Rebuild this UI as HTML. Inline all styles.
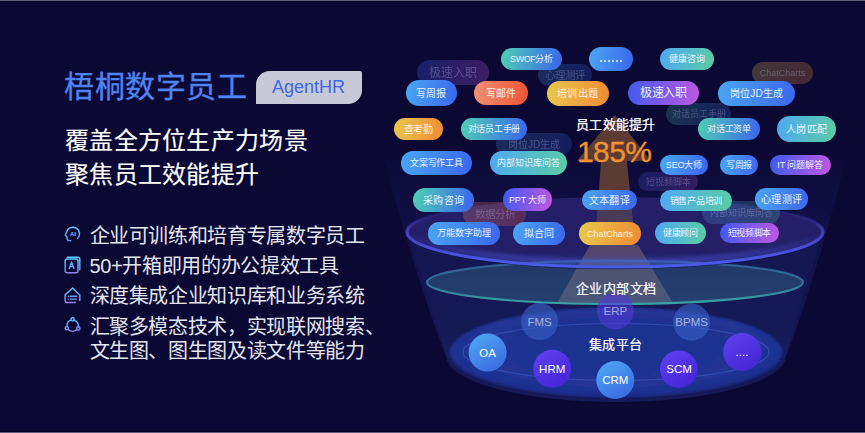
<!DOCTYPE html>
<html lang="zh-CN"><head><meta charset="utf-8">
<style>
html,body{margin:0;padding:0}
body{width:865px;height:433px;overflow:hidden;position:relative;background:#0b0934;font-family:"Liberation Sans",sans-serif}
.ab{position:absolute;white-space:nowrap}
.line{position:absolute;left:0;width:865px;height:1px}
.fun{position:absolute;left:0;top:0}
.dots{display:inline-flex;gap:2.2px;vertical-align:middle;margin-top:2px}
.dots i{display:block;width:1.8px;height:1.8px;border-radius:1px;background:#eef4ff}
.pill{position:absolute;text-align:center;white-space:nowrap;font-weight:500;letter-spacing:0}
.title{left:64px;top:67px;font-size:30px;color:#4f82f2;line-height:40px;letter-spacing:0.6px;-webkit-text-stroke:0.35px #4f82f2}
.badge{left:256px;top:71px;width:106px;height:33px;background:#c9c8d8;border-radius:14px 2px 14px 0;}
.badge span{position:absolute;left:16px;top:0;line-height:33px;font-size:18px;color:#3d68de}
.sub{left:65px;font-size:24px;color:#ffffff;line-height:33px;letter-spacing:0.3px;-webkit-text-stroke:0.12px #fff}
.bl{left:89.5px;font-size:20px;color:#e4e5ee;line-height:24px;letter-spacing:-0.35px}
.ic{position:absolute;left:64px;width:17px;height:17px}
.clab{position:absolute;font-size:11.5px;color:#fff;text-align:center;width:60px;line-height:14px;}
</style></head><body>
<div class="line" style="top:0;background:#5e5c80"></div>
<div class="line" style="top:1px;background:#020024"></div>
<div class="line" style="top:431px;background:#020024"></div>
<div class="line" style="top:432px;background:#5e5c80"></div>

<div class="ab title">梧桐数字员工</div>
<div class="ab badge"><span>AgentHR</span></div>
<div class="ab sub" style="top:124px">覆盖全方位生产力场景</div>
<div class="ab sub" style="top:157.5px">聚焦员工效能提升</div>

<div class="ab bl" style="top:223.5px">企业可训练和培育专属数字员工</div>
<div class="ab bl" style="top:254px">50+开箱即用的办公提效工具</div>
<div class="ab bl" style="top:284.2px">深度集成企业知识库和业务系统</div>
<div class="ab bl" style="top:314.5px">汇聚多模态技术，实现联网搜索、</div>
<div class="ab bl" style="top:339px">文生图、图生图及读文件等能力</div>


<svg class="ab" style="left:0;top:0" width="100" height="433" viewBox="0 0 100 433">
 <defs>
  <linearGradient id="ig" gradientUnits="userSpaceOnUse" x1="0" y1="4" x2="0" y2="21">
   <stop offset="0" stop-color="#5ecaff"/><stop offset="0.6" stop-color="#62a4f8"/><stop offset="1" stop-color="#a07af4"/>
  </linearGradient>
 </defs>
 <g fill="none" stroke="url(#ig)" stroke-width="1.45" stroke-linecap="round" stroke-linejoin="round">
  <g transform="translate(62,224)">
   <path d="M15.5,14.6 A6.6,6.6 0 1 0 4.6,8 L3.3,11.3 L4.8,12.5 L5.3,15.3 Q5.5,16.6 7,16.6 L8.8,16.6"/>
  </g>
  <g transform="translate(60,253)">
   <rect x="5.2" y="6" width="12.8" height="13.8" rx="2"/>
   <path d="M7.3,4.3 L17.6,4.3 Q19.8,4.3 19.8,6.5 L19.8,16.8"/>
   <path d="M9.3,15.5 L11.6,9.3 L13.9,15.5 M10.1,13.5 L13.1,13.5"/>
  </g>
  <g transform="translate(60,282)">
   <path d="M15.2,20.4 L7,20.4 Q5.1,20.4 5.1,18.5 L5.1,12.9 L12.6,6 L19.8,12.9 L19.8,18.5"/>
   <path d="M10.2,14.2 L16.4,14.2 M10.2,17.1 L16.4,17.1"/>
   <path d="M8.4,14.2 L8.5,14.2 M8.4,17.1 L8.5,17.1"/>
  </g>
  <g transform="translate(60,312)">
   <path d="M11.1,8.1 A6.2,6.2 0 0 0 6.9,14.5"/>
   <path d="M14.1,8.1 A6.2,6.2 0 0 1 18.3,14.7"/>
   <path d="M8.3,17.6 A6.2,6.2 0 0 0 16.8,17.8"/>
   <circle cx="12.6" cy="7.3" r="1.6"/>
   <circle cx="6.8" cy="16.2" r="1.6"/>
   <circle cx="18.3" cy="16.4" r="1.6"/>
  </g>
 </g>
 <text x="73" y="235.8" font-size="6" font-weight="700" fill="#78c0fa" text-anchor="middle" font-family="Liberation Sans">AI</text>
</svg>


<svg class="fun" width="865" height="433" viewBox="0 0 865 433">
 <defs>
  <linearGradient id="outer" x1="0" y1="0" x2="0" y2="1">
   <stop offset="0" stop-color="#16165a" stop-opacity="0.1"/>
   <stop offset="0.3" stop-color="#18185e" stop-opacity="0.5"/>
   <stop offset="1" stop-color="#1c2068" stop-opacity="0.7"/>
  </linearGradient>
  <linearGradient id="body" x1="0" y1="0" x2="0" y2="1">
   <stop offset="0" stop-color="#121650"/>
   <stop offset="0.6" stop-color="#141a56"/>
   <stop offset="1" stop-color="#1a2470"/>
  </linearGradient>
  <linearGradient id="topfill" x1="0" y1="0" x2="0" y2="1">
   <stop offset="0" stop-color="#261e68"/>
   <stop offset="1" stop-color="#221f66"/>
  </linearGradient>
  <linearGradient id="tealfill" x1="0" y1="0" x2="0" y2="1">
   <stop offset="0" stop-color="#203868"/>
   <stop offset="1" stop-color="#23406e"/>
  </linearGradient>
  <linearGradient id="tealrim" x1="0" y1="0" x2="0" y2="1">
   <stop offset="0" stop-color="#3a68a4" stop-opacity="0.75"/>
   <stop offset="0.4" stop-color="#3a78a8" stop-opacity="0.8"/>
   <stop offset="1" stop-color="#3aa4a6"/>
  </linearGradient>
  <linearGradient id="toprim" x1="0" y1="0" x2="0" y2="1">
   <stop offset="0" stop-color="#3a2e98" stop-opacity="0"/>
   <stop offset="0.2" stop-color="#3a2e98" stop-opacity="0.05"/>
   <stop offset="0.35" stop-color="#3a30a0" stop-opacity="0.6"/>
   <stop offset="0.5" stop-color="#4640c0"/>
   <stop offset="0.8" stop-color="#4a50dc"/>
   <stop offset="1" stop-color="#4c5ce8"/>
  </linearGradient>
  <filter id="blur2" x="-10%" y="-30%" width="120%" height="160%"><feGaussianBlur stdDeviation="1.0"/></filter>
  <linearGradient id="glowg" x1="0" y1="0" x2="0" y2="1">
   <stop offset="0" stop-color="#4050d8" stop-opacity="0"/>
   <stop offset="0.55" stop-color="#4050d8" stop-opacity="0"/>
   <stop offset="1" stop-color="#4a5ce0" stop-opacity="0.55"/>
  </linearGradient>
  <filter id="blur3" x="-10%" y="-40%" width="120%" height="180%"><feGaussianBlur stdDeviation="2.2"/></filter>
  <filter id="soft" x="-5%" y="-20%" width="110%" height="140%"><feGaussianBlur stdDeviation="0.6"/></filter>
  <radialGradient id="disc" cx="0.5" cy="0.45" r="0.55">
   <stop offset="0" stop-color="#1f328e"/>
   <stop offset="0.8" stop-color="#203494"/>
   <stop offset="1" stop-color="#1c2c8e"/>
  </radialGradient>
  <linearGradient id="beam2" x1="0" y1="0" x2="0" y2="1">
   <stop offset="0" stop-color="#7a6670" stop-opacity="0.55"/>
   <stop offset="1" stop-color="#7a7488" stop-opacity="0.45"/>
  </linearGradient>
  <linearGradient id="cOA" x1="0.2" y1="0" x2="0.8" y2="1">
   <stop offset="0" stop-color="#4ea6f4"/><stop offset="1" stop-color="#3a68e0"/>
  </linearGradient>
  <linearGradient id="cPU" x1="0.2" y1="0" x2="0.8" y2="1">
   <stop offset="0" stop-color="#5e40f0"/><stop offset="1" stop-color="#4424d4"/>
  </linearGradient>
 </defs>
 <!-- outer faint cone -->
 <path d="M384,160 L846,160 Q812,290 786,356 A170 46 0 0 1 446,356 Q420,290 384,160 Z" fill="url(#outer)"/>
 <!-- funnel body -->
 <path d="M407,232 L446,352 A170 46 0 0 0 786,352 L823,232 Z" fill="url(#body)"/>
 <!-- bottom disc -->
 <ellipse cx="616" cy="352" rx="166" ry="44.5" fill="url(#disc)" filter="url(#blur2)"/>
 <ellipse cx="616" cy="352" rx="153" ry="28.5" fill="none" stroke="#4a68dc" stroke-opacity="0.4" stroke-width="1.2"/>
 <!-- top ellipse -->
 <ellipse cx="615" cy="232" rx="208" ry="35" fill="url(#topfill)"/>
 <!-- teal ellipse -->
 <ellipse cx="615" cy="282.3" rx="188" ry="21.7" fill="url(#tealfill)"/>
 <!-- beam shaft + arrow -->
 <clipPath id="topclip"><ellipse cx="615" cy="232" rx="208" ry="35"/></clipPath>
 <path d="M615,115 L577,161 L601,161 L595,245 L635,245 L627,161 L651,161 Z" fill="#5c3b34"/>
 <path d="M601,161 L595,245 L635,245 L627,161 Z" fill="#4a3a5a" clip-path="url(#topclip)"/>
 <path d="M590,245 L638,245 L673,303 L557,303 Z" fill="url(#beam2)"/>
 <!-- rims -->
 <ellipse cx="615" cy="282.3" rx="188" ry="21.7" fill="none" stroke="url(#tealrim)" stroke-width="2.2" filter="url(#soft)"/>
 <ellipse cx="615" cy="229" rx="206" ry="33" fill="none" stroke="url(#glowg)" stroke-width="6" filter="url(#blur3)"/>
 <path d="M408,233.5 A207 35 0 0 0 822,233.5" fill="none" stroke="#0c1040" stroke-width="1.5" stroke-opacity="0.7"/>
 <ellipse cx="615" cy="232" rx="208" ry="35" fill="none" stroke="url(#toprim)" stroke-width="3" filter="url(#soft)"/>
 <!-- circles -->
 <circle cx="539.6" cy="321.6" r="18.5" fill="#3a62c8" fill-opacity="0.6"/>
 <circle cx="615.3" cy="311" r="18.5" fill="#5038d8" fill-opacity="0.6"/>
 <circle cx="691.6" cy="322.2" r="18.5" fill="#3a62c8" fill-opacity="0.6"/>
 <circle cx="487.6" cy="352.6" r="19" fill="url(#cOA)"/>
 <circle cx="552.2" cy="368.8" r="19" fill="url(#cPU)"/>
 <circle cx="615.3" cy="380" r="19" fill="url(#cOA)"/>
 <circle cx="678.8" cy="369.2" r="18.8" fill="url(#cPU)"/>
 <circle cx="742.2" cy="352" r="19" fill="url(#cPU)"/>
</svg>


<div class="ab" style="left:576px;top:115px;font-size:13px;letter-spacing:0.25px;color:#fff;line-height:20px;-webkit-text-stroke:0.25px #fff">员工效能提升</div>
<div class="ab" style="left:577px;top:134px;font-size:30px;color:#f2922f;line-height:36px;letter-spacing:-0.6px;-webkit-text-stroke:0.3px #f2922f">185%</div>
<div class="ab" style="left:575.5px;top:278.5px;font-size:13px;letter-spacing:0.5px;color:#fff;line-height:20px;-webkit-text-stroke:0.2px #fff">企业内部文档</div>
<div class="ab" style="left:588.5px;top:335px;font-size:13px;letter-spacing:0.6px;color:#fff;line-height:20px;-webkit-text-stroke:0.2px #fff">集成平台</div>

<div class="clab" style="left:509.6px;top:314.6px;color:#aab4dc">FMS</div>
<div class="clab" style="left:585.3px;top:304px;color:#aaa8dc">ERP</div>
<div class="clab" style="left:661.6px;top:315.2px;color:#aab4dc">BPMS</div>
<div class="clab" style="left:457.6px;top:345.6px">OA</div>
<div class="clab" style="left:522.2px;top:361.8px">HRM</div>
<div class="clab" style="left:585.3px;top:373px">CRM</div>
<div class="clab" style="left:649.1px;top:362.3px">SCM</div>
<div class="clab" style="left:712px;top:344.6px">....</div>

<div class="pill" style="left:417px;top:60px;width:72px;height:25px;border-radius:12.5px;background:linear-gradient(100deg,rgba(63,90,240,0.28),rgba(193,87,223,0.28));filter:blur(0.7px);font-size:12px;line-height:26.2px;color:rgba(205,200,240,0.28)">极速入职</div><div class="pill" style="left:538px;top:64px;width:54px;height:22px;border-radius:11.0px;background:linear-gradient(100deg,rgba(74,166,244,0.22),rgba(59,102,236,0.22));filter:blur(0.7px);font-size:10.5px;line-height:23.2px;color:rgba(205,200,240,0.28)">心理测评</div><div class="pill" style="left:752px;top:62px;width:61px;height:22px;border-radius:11.0px;background:linear-gradient(100deg,rgba(233,200,78,0.25),rgba(240,138,52,0.25));filter:blur(0.7px);font-size:9px;line-height:23.2px;color:rgba(205,200,240,0.28)">ChatCharts</div><div class="pill" style="left:666px;top:103px;width:65px;height:22px;border-radius:11.0px;background:linear-gradient(100deg,rgba(79,208,180,0.22),rgba(58,100,236,0.22));filter:blur(0.7px);font-size:9px;line-height:23.2px;color:rgba(205,200,240,0.28)">对话员工手册</div><div class="pill" style="left:496px;top:133px;width:76px;height:22px;border-radius:11.0px;background:linear-gradient(100deg,rgba(74,166,244,0.22),rgba(59,102,236,0.22));filter:blur(0.7px);font-size:10px;line-height:23.2px;color:rgba(205,200,240,0.28)">岗位JD生成</div><div class="pill" style="left:638px;top:172px;width:60px;height:19px;border-radius:9.5px;background:linear-gradient(100deg,rgba(63,90,240,0.22),rgba(193,87,223,0.22));filter:blur(0.7px);font-size:9px;line-height:20.2px;color:rgba(205,200,240,0.28)">短视频脚本</div><div class="pill" style="left:463px;top:202px;width:63px;height:24px;border-radius:12.0px;background:linear-gradient(100deg,rgba(241,146,118,0.25),rgba(238,82,50,0.25));filter:blur(0.7px);font-size:10.5px;line-height:25.2px;color:rgba(205,200,240,0.28)">数据分析</div><div class="pill" style="left:702px;top:201px;width:78px;height:23px;border-radius:11.5px;background:linear-gradient(100deg,rgba(78,170,242,0.22),rgba(90,203,164,0.22));filter:blur(0.7px);font-size:9px;line-height:24.2px;color:rgba(205,200,240,0.28)">内部知识库问答</div><div class="pill" style="left:501px;top:48px;width:61px;height:22px;border-radius:11.0px;background:linear-gradient(100deg,#4fd0b4,#3a64ec);font-size:9px;letter-spacing:-0.44px;text-indent:-0.44px;line-height:23.2px;color:#e8f2ff">SWOF分析</div><div class="pill" style="left:589px;top:47px;width:44px;height:24px;border-radius:12.0px;background:linear-gradient(100deg,#4aa6f4,#3b66ec);font-size:10px;letter-spacing:0px;text-indent:0px;line-height:25.2px;color:#e8f2ff"><span class="dots"><i></i><i></i><i></i><i></i><i></i><i></i></span></div><div class="pill" style="left:660px;top:48px;width:54px;height:22px;border-radius:11.0px;background:linear-gradient(100deg,#4eaaf2,#5acba4);font-size:9px;letter-spacing:-0.13px;text-indent:-0.13px;line-height:23.2px;color:#e8f2ff">健康咨询</div><div class="pill" style="left:405.5px;top:80px;width:51px;height:26px;border-radius:13.0px;background:linear-gradient(100deg,#4aa6f4,#3b66ec);font-size:10px;letter-spacing:0.0px;text-indent:0.0px;line-height:27.2px;color:#e8f2ff">写周报</div><div class="pill" style="left:474px;top:81px;width:54px;height:24px;border-radius:12.0px;background:linear-gradient(100deg,#f19276,#ee5232);font-size:10px;letter-spacing:0.4px;text-indent:0.4px;line-height:25.2px;color:#fff1e2">写邮件</div><div class="pill" style="left:546.5px;top:81px;width:62px;height:25px;border-radius:12.5px;background:linear-gradient(100deg,#e9c84e,#f08a34);font-size:10px;letter-spacing:0.43px;text-indent:0.43px;line-height:26.2px;color:#fff1e2">培训出题</div><div class="pill" style="left:628px;top:81px;width:71px;height:24px;border-radius:12.0px;background:linear-gradient(100deg,#3f5af0,#c157df);font-size:12px;letter-spacing:-0.5px;text-indent:-0.5px;line-height:25.2px;color:#e8f2ff">极速入职</div><div class="pill" style="left:718px;top:81px;width:77px;height:25px;border-radius:12.5px;background:linear-gradient(100deg,#4aa6f4,#3b66ec);font-size:10px;letter-spacing:0.32px;text-indent:0.32px;line-height:26.2px;color:#e8f2ff">岗位JD生成</div><div class="pill" style="left:394px;top:118px;width:49px;height:22px;border-radius:11.0px;background:linear-gradient(100deg,#e9c84e,#f08a34);font-size:10px;letter-spacing:-0.05px;text-indent:-0.05px;line-height:23.2px;color:#fff1e2">查考勤</div><div class="pill" style="left:461px;top:118px;width:66px;height:22px;border-radius:11.0px;background:linear-gradient(100deg,#4fd0b4,#3a64ec);font-size:9px;letter-spacing:-0.28px;text-indent:-0.28px;line-height:23.2px;color:#e8f2ff">对话员工手册</div><div class="pill" style="left:698px;top:118px;width:62px;height:22px;border-radius:11.0px;background:linear-gradient(100deg,#4fd0b4,#3a64ec);font-size:9px;letter-spacing:-0.32px;text-indent:-0.32px;line-height:23.2px;color:#e8f2ff">对话工资单</div><div class="pill" style="left:777px;top:116px;width:59px;height:26px;border-radius:13.0px;background:linear-gradient(100deg,#4eaaf2,#5acba4);font-size:10px;letter-spacing:0.27px;text-indent:0.27px;line-height:27.2px;color:#e8f2ff">人岗匹配</div><div class="pill" style="left:401px;top:151px;width:71px;height:24px;border-radius:12.0px;background:linear-gradient(100deg,#4aa6f4,#3b66ec);font-size:9px;letter-spacing:-0.28px;text-indent:-0.28px;line-height:25.2px;color:#e8f2ff">文案写作工具</div><div class="pill" style="left:490px;top:151px;width:77px;height:24px;border-radius:12.0px;background:linear-gradient(100deg,#4eaaf2,#5acba4);font-size:9px;letter-spacing:0.05px;text-indent:0.05px;line-height:25.2px;color:#e8f2ff">内部知识库问答</div><div class="pill" style="left:660px;top:155px;width:48px;height:20px;border-radius:10.0px;background:linear-gradient(100deg,#4aa6f4,#3b66ec);font-size:9px;letter-spacing:-0.15px;text-indent:-0.15px;line-height:21.2px;color:#e8f2ff">SEO大师</div><div class="pill" style="left:720px;top:155px;width:38px;height:20px;border-radius:10.0px;background:linear-gradient(100deg,#4aa6f4,#3b66ec);font-size:9px;letter-spacing:-0.5px;text-indent:-0.5px;line-height:21.2px;color:#e8f2ff">写周报</div><div class="pill" style="left:769.5px;top:155px;width:61.5px;height:20px;border-radius:10.0px;background:linear-gradient(100deg,#3f5af0,#c157df);font-size:9px;letter-spacing:-0.03px;text-indent:-0.03px;line-height:21.2px;color:#e8f2ff">IT 问题解答</div><div class="pill" style="left:413px;top:188px;width:61px;height:24px;border-radius:12.0px;background:linear-gradient(100deg,#4fd0b4,#3a64ec);font-size:10px;letter-spacing:0.17px;text-indent:0.17px;line-height:25.2px;color:#e8f2ff">采购咨询</div><div class="pill" style="left:503px;top:188px;width:49px;height:23px;border-radius:11.5px;background:linear-gradient(100deg,#3f5af0,#c157df);font-size:9px;letter-spacing:-0.12px;text-indent:-0.12px;line-height:24.2px;color:#e8f2ff">PPT 大师</div><div class="pill" style="left:582px;top:190px;width:55px;height:20px;border-radius:10.0px;background:linear-gradient(100deg,#4aa6f4,#3b66ec);font-size:10px;letter-spacing:0.03px;text-indent:0.03px;line-height:21.2px;color:#e8f2ff">文本翻译</div><div class="pill" style="left:660px;top:190px;width:72px;height:21px;border-radius:10.5px;background:linear-gradient(100deg,#4eaaf2,#5acba4);font-size:9px;letter-spacing:-0.22px;text-indent:-0.22px;line-height:22.2px;color:#e8f2ff">销售产品培训</div><div class="pill" style="left:755px;top:188px;width:53px;height:22px;border-radius:11.0px;background:linear-gradient(100deg,#4aa6f4,#3b66ec);font-size:10px;letter-spacing:0.1px;text-indent:0.1px;line-height:23.2px;color:#e8f2ff">心理测评</div><div class="pill" style="left:428px;top:222px;width:72px;height:22.5px;border-radius:11.25px;background:linear-gradient(100deg,#4aa6f4,#3b66ec);font-size:9px;letter-spacing:-0.16px;text-indent:-0.16px;line-height:23.7px;color:#e8f2ff">万能数字助理</div><div class="pill" style="left:513px;top:222px;width:52px;height:23px;border-radius:11.5px;background:linear-gradient(100deg,#4aa6f4,#3b66ec);font-size:10px;letter-spacing:0.05px;text-indent:0.05px;line-height:24.2px;color:#e8f2ff">拟合同</div><div class="pill" style="left:579px;top:222px;width:62px;height:23px;border-radius:11.5px;background:linear-gradient(100deg,#e9c84e,#f08a34);font-size:9px;letter-spacing:0.08px;text-indent:0.08px;line-height:24.2px;color:#fff1e2">ChatCharts</div><div class="pill" style="left:655px;top:222px;width:51px;height:22px;border-radius:11.0px;background:linear-gradient(100deg,#4eaaf2,#5acba4);font-size:9px;letter-spacing:-0.23px;text-indent:-0.23px;line-height:23.2px;color:#e8f2ff">健康顾问</div><div class="pill" style="left:720px;top:223px;width:59px;height:20px;border-radius:10.0px;background:linear-gradient(100deg,#3f5af0,#c157df);font-size:9px;letter-spacing:-0.45px;text-indent:-0.45px;line-height:21.2px;color:#e8f2ff">短视频脚本</div>
</body></html>
